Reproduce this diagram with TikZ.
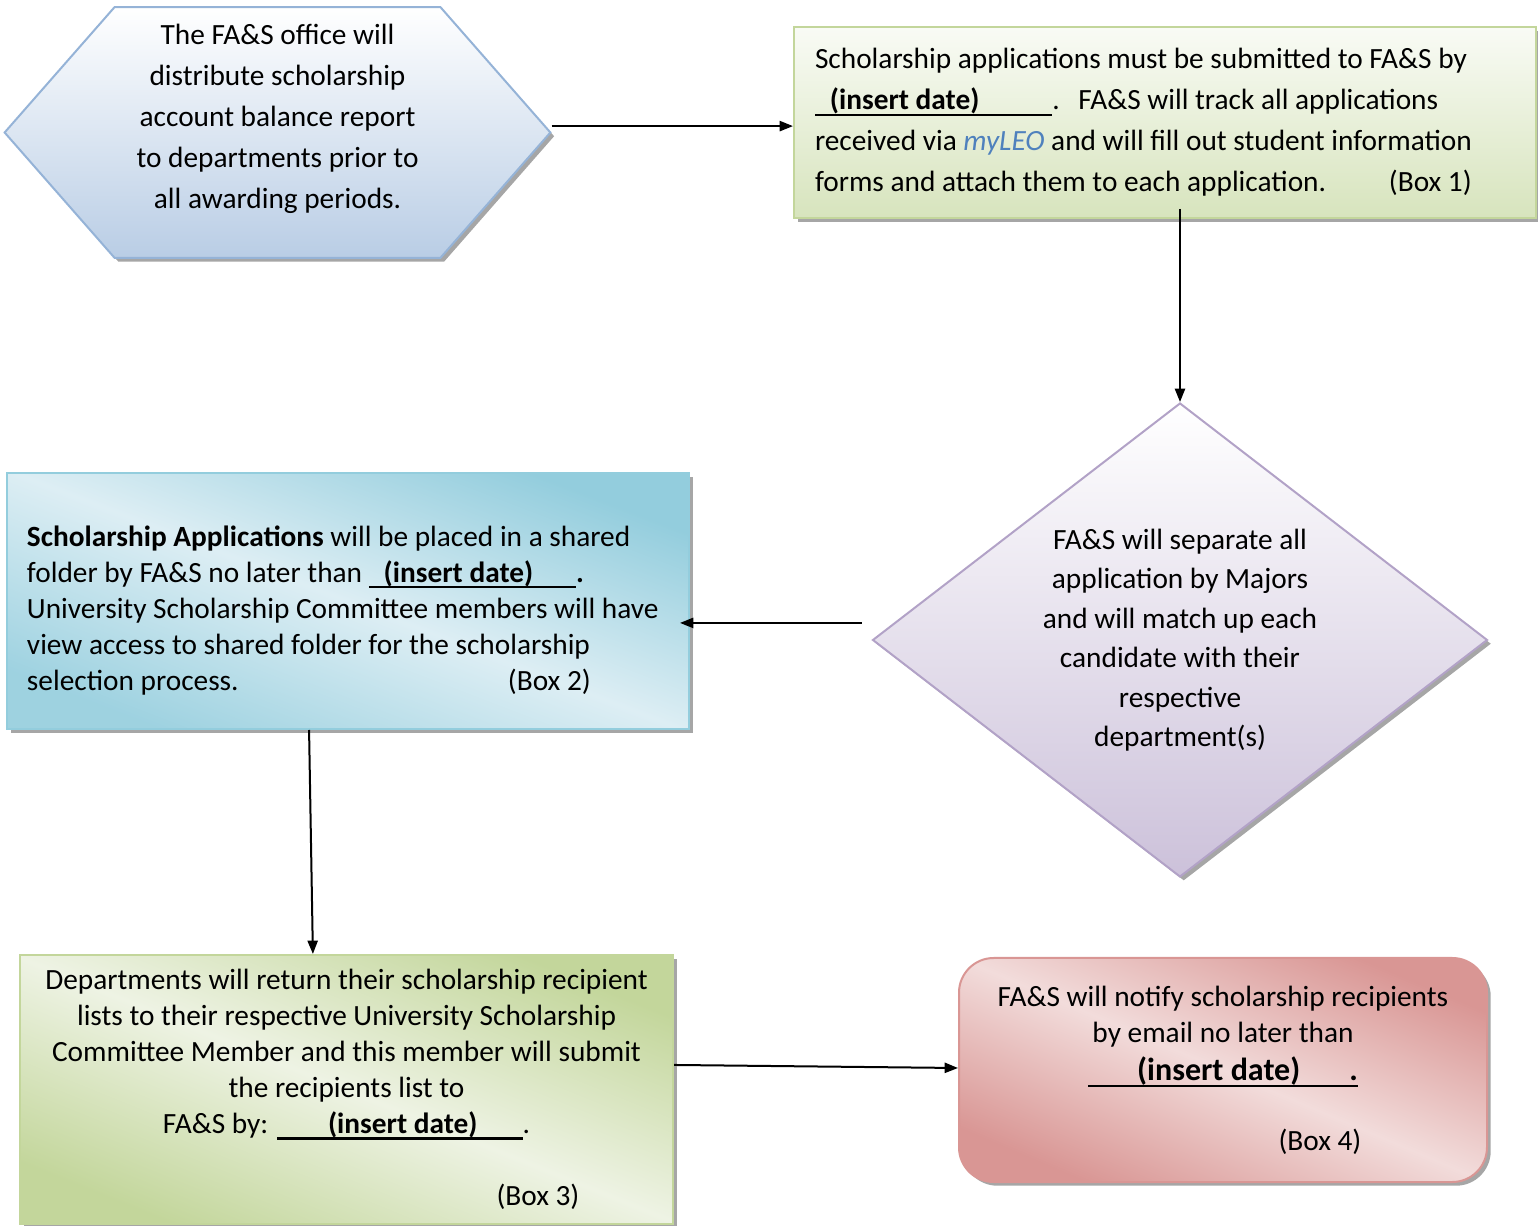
\documentclass[tikz,border=0pt]{standalone}
\usepackage{fontspec}
\setmainfont{Carlito}
\usepackage{xcolor}
\usetikzlibrary{arrows.meta,positioning,shapes.geometric,shapes.symbols,shadows}

\definecolor{hexfill}{HTML}{B9CDE5}
\definecolor{hexline}{HTML}{95B3D7}
\definecolor{grnfill}{HTML}{D7E4BD}
\definecolor{grnline}{HTML}{C3D69B}
\definecolor{grnlight}{HTML}{EEF3E4}
\definecolor{lilfill}{HTML}{CCC1DA}
\definecolor{lilline}{HTML}{B2A2C7}
\definecolor{bludark}{HTML}{93CDDD}
\definecolor{blulight}{HTML}{DDEEF4}
\definecolor{reddark}{HTML}{D99694}
\definecolor{redlight}{HTML}{F2DCDB}
\definecolor{leoblue}{HTML}{4F81BD}

% underlined blank with the date placeholder
\newcommand{\datefill}[3]{\leavevmode\begingroup\setbox0=\hbox{\hspace{#1}\textbf{(insert date)}\hspace{#2}#3}%
  \rlap{\rule[-2.2pt]{\wd0}{0.8pt}}\box0\endgroup}

\begin{document}
\begin{tikzpicture}[
    x=0.375pt, y=-0.375pt,
    >={Triangle[length=5pt,width=3.8pt]},
    line width=0.75pt,
    font=\fontsize{11}{13.5}\selectfont,
    box/.style={draw, inner sep=0pt,
      drop shadow={shadow xshift=1.4pt, shadow yshift=-1.4pt, fill=black, opacity=0.35}},
    hexa/.style={box, signal, signal to=east and west, signal pointer angle=97.5,
      inner xsep=8.2pt, minimum height=94.1pt, align=center,
      top color=white, bottom color=hexfill, draw=hexline,
      font=\fontsize{11}{15.4}\selectfont},
    track/.style={box, minimum width=278.25pt, minimum height=71.6pt,
      inner xsep=7.875pt, text width=262.5pt, align=flush left,
      top color=grnfill!15, bottom color=grnfill, draw=grnline,
      font=\fontsize{11}{15.4}\selectfont},
    decide/.style={box, diamond, aspect=1.3, minimum width=230.6pt,
      minimum height=177.75pt, align=center,
      top color=white, bottom color=lilfill, draw=lilline,
      font=\fontsize{11}{14.8}\selectfont},
    share/.style={box, minimum width=255.75pt, minimum height=96pt,
      inner xsep=7.5pt, text width=240.75pt, align=flush left,
      top color=bludark, bottom color=bludark!85!blulight, middle color=blulight,
      shading angle=-21, draw=bludark},
    collect/.style={box, minimum width=244.9pt, minimum height=100.9pt, align=center,
      top color=grnline, bottom color=grnline, middle color=grnlight,
      shading angle=-22, draw=grnline},
    notify/.style={box, rounded corners=13pt, minimum width=198pt, minimum height=84pt,
      align=center, top color=reddark, bottom color=reddark, middle color=redlight,
      shading angle=-23, draw=reddark},
  ]
  \useasboundingbox (0,0) rectangle (1538,1226);

  % Start
  \node[hexa] (report) at (277.5,132.5) {The FA\&S office will\\distribute scholarship\\account balance report\\to departments prior to\\all awarding periods.\\[-3pt]\mbox{}};

  % Box 1
  \node[track] (track) at (1165,122.5) {Scholarship applications must be submitted to FA\&S by\\
    \datefill{5.6pt}{27.4pt}{}.\hspace{7pt}FA\&S will track all applications\\
    received via \textcolor{leoblue}{\textit{myLEO}} and will fill out student information\\
    forms and attach them to each application.\hspace{23.6pt}(Box 1)};

  % Sorting by majors
  \node[decide] (split) at (1180,640) {FA\&S will separate all\\application by Majors\\and will match up each\\candidate with their\\respective\\department(s)};

  % Box 2
  \node[share] (share) at (348,601) {\mbox{}\\[1.25pt]\textbf{Scholarship Applications} will be placed in a shared\\
    folder by FA\&S no later than \datefill{5.6pt}{16.1pt}{}\textbf{.}\\
    University Scholarship Committee members will have\\
    view access to shared folder for the scholarship\\
    selection process.\hspace{101pt}(Box 2)};

  % Box 3
  \node[collect] (collect) at (346.5,1089.5) {Departments will return their scholarship recipient\\
    lists to their respective University Scholarship\\
    Committee Member and this member will submit\\
    the recipients list to\\
    FA\&S by: \datefill{19.1pt}{16.9pt}{}.\\[13.5pt]
    \hspace*{143.6pt}(Box 3)};

  % Box 4
  \node[notify] (notify) at (1223,1070) {FA\&S will notify scholarship recipients\\
    by email no later than\\[1pt]
    {\fontsize{12}{14}\selectfont\datefill{18.4pt}{18.4pt}{\textbf{.}}}\\[12.5pt]
    \hspace*{72.75pt}(Box 4)};

  % Edges
  \draw[->] ([yshift=2.4pt]report.east) -- ([yshift=2.4pt]report.east -| track.west);
  \draw[->] ([yshift=3.75pt]split.north |- track.south) -- (split.north);
  \draw[->] ([xshift=-3.75pt,yshift=6.4pt]split.west) -- ([xshift=-3.75pt,yshift=6.4pt]split.west -| share.east);
  \draw[->] ([xshift=-14.6pt]share.south) -- ([xshift=-12.6pt]collect.north);
  \draw[->] ([yshift=9.2pt]collect.east) -- ([yshift=0.75pt]notify.west);
\end{tikzpicture}
\end{document}
